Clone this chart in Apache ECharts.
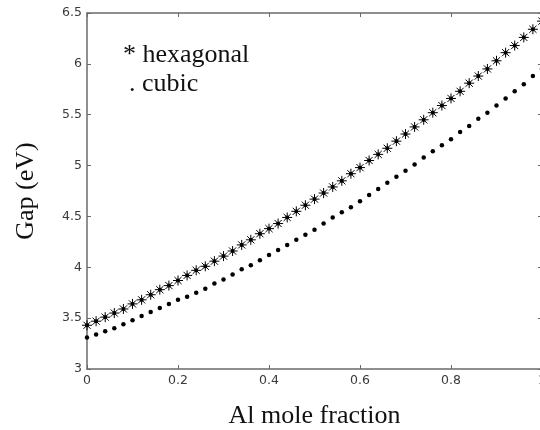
<!DOCTYPE html>
<html>
<head>
<meta charset="utf-8">
<script src="https://cdn.jsdelivr.net/npm/echarts@6/dist/echarts.min.js"></script>
<style>
  html, body { margin: 0; padding: 0; background: #fff; }
  #chart { width: 540px; height: 430px; }
</style>
</head>
<body>
<div id="chart"></div>
<script>
// Al mole fraction sampled every 0.02
const aluminiumFraction = [
  0.00, 0.02, 0.04, 0.06, 0.08, 0.10, 0.12, 0.14, 0.16, 0.18,
  0.20, 0.22, 0.24, 0.26, 0.28, 0.30, 0.32, 0.34, 0.36, 0.38,
  0.40, 0.42, 0.44, 0.46, 0.48, 0.50, 0.52, 0.54, 0.56, 0.58,
  0.60, 0.62, 0.64, 0.66, 0.68, 0.70, 0.72, 0.74, 0.76, 0.78,
  0.80, 0.82, 0.84, 0.86, 0.88, 0.90, 0.92, 0.94, 0.96, 0.98,
  1.00
];

// Band gap (eV), hexagonal phase
const gapHexagonal = [
  3.43, 3.47, 3.51, 3.55, 3.59, 3.64, 3.68, 3.73, 3.78, 3.82,
  3.87, 3.92, 3.97, 4.01, 4.06, 4.11, 4.16, 4.22, 4.27, 4.33,
  4.38, 4.43, 4.49, 4.55, 4.61, 4.67, 4.73, 4.79, 4.85, 4.92,
  4.98, 5.05, 5.11, 5.17, 5.24, 5.31, 5.38, 5.45, 5.52, 5.59,
  5.66, 5.73, 5.81, 5.88, 5.95, 6.03, 6.11, 6.18, 6.26, 6.34,
  6.42
];

// Band gap (eV), cubic phase
const gapCubic = [
  3.31, 3.34, 3.37, 3.40, 3.44, 3.48, 3.52, 3.56, 3.60, 3.64,
  3.68, 3.71, 3.75, 3.79, 3.84, 3.88, 3.93, 3.98, 4.02, 4.07,
  4.12, 4.17, 4.22, 4.27, 4.32, 4.37, 4.43, 4.49, 4.54, 4.59,
  4.65, 4.71, 4.77, 4.83, 4.89, 4.95, 5.01, 5.08, 5.14, 5.20,
  5.26, 5.33, 5.39, 5.46, 5.52, 5.59, 5.66, 5.73, 5.80, 5.88,
  5.95
];

const legendLines = ['* hexagonal', '. cubic'];
const xAxisTitle = 'Al mole fraction';
const yAxisTitle = 'Gap (eV)';

const serif = '"Liberation Serif", "Times New Roman", serif';
const sans = '"DejaVu Sans", Verdana, sans-serif';
const frameColor = '#6a6a6a';

function pairs(xs, ys) {
  return xs.map((x, i) => [x, ys[i]]);
}

// eight-armed asterisk with a solid centre
const asteriskPath = 'path://M0,-5L0,5M-5,0L5,0M-3.6,-3.6L3.6,3.6M-3.6,3.6L3.6,-3.6' +
  'M-1.3,-1.3L1.3,-1.3L1.3,1.3L-1.3,1.3Z';

const frameAxis = {
  axisLine: { show: true, onZero: false, lineStyle: { color: frameColor, width: 1.5 } },
  axisTick: { show: true, inside: true, length: 4, lineStyle: { color: frameColor, width: 1 } },
  splitLine: { show: false }
};

const tickLabel = { margin: 5, fontFamily: sans, fontSize: 12.5, color: '#3a3a3a',
                    formatter: v => String(+v.toFixed(1)) };

const chart = echarts.init(document.getElementById('chart'), null, { renderer: 'canvas' });

chart.setOption({
  backgroundColor: '#ffffff',
  animation: false,
  // the frame runs a couple of pixels past the right edge of the page,
  // so the grid must not be shrunk to keep its labels inside
  grid: { left: 87, top: 13, right: -2, bottom: 61, containLabel: false, outerBoundsMode: 'none' },
  xAxis: [
    Object.assign({
      type: 'value', position: 'bottom', min: 0, max: 1, interval: 0.2,
      name: xAxisTitle, nameLocation: 'middle', nameGap: 34,
      nameTextStyle: { fontFamily: serif, fontSize: 26, color: '#111' },
      axisLabel: tickLabel
    }, frameAxis),
    Object.assign({
      type: 'value', position: 'top', min: 0, max: 1, interval: 0.2,
      axisLabel: { show: false }
    }, frameAxis)
  ],
  yAxis: [
    Object.assign({
      type: 'value', position: 'left', min: 3, max: 6.5, interval: 0.5,
      name: yAxisTitle, nameLocation: 'middle', nameGap: 48,
      nameTextStyle: { fontFamily: serif, fontSize: 26, color: '#111' },
      axisLabel: tickLabel
    }, frameAxis),
    Object.assign({
      type: 'value', position: 'right', min: 3, max: 6.5, interval: 0.5,
      axisLabel: { show: false }
    }, frameAxis)
  ],
  series: [
    {
      name: 'hexagonal',
      type: 'scatter',
      data: pairs(aluminiumFraction, gapHexagonal),
      symbol: asteriskPath,
      symbolSize: 10,
      itemStyle: { color: '#000', borderColor: '#000', borderWidth: 1, opacity: 1 },
      clip: false
    },
    {
      name: 'cubic',
      type: 'scatter',
      data: pairs(aluminiumFraction, gapCubic),
      symbol: 'circle',
      symbolSize: 4.5,
      itemStyle: { color: '#000', opacity: 1 },
      clip: false
    }
  ],
  graphic: [
    {
      type: 'text', left: 123, top: 42,
      style: { text: legendLines[0], font: '26px ' + serif, fill: '#111' }
    },
    {
      type: 'text', left: 129, top: 71,
      style: { text: legendLines[1], font: '26px ' + serif, fill: '#111' }
    }
  ]
});
</script>
</body>
</html>
